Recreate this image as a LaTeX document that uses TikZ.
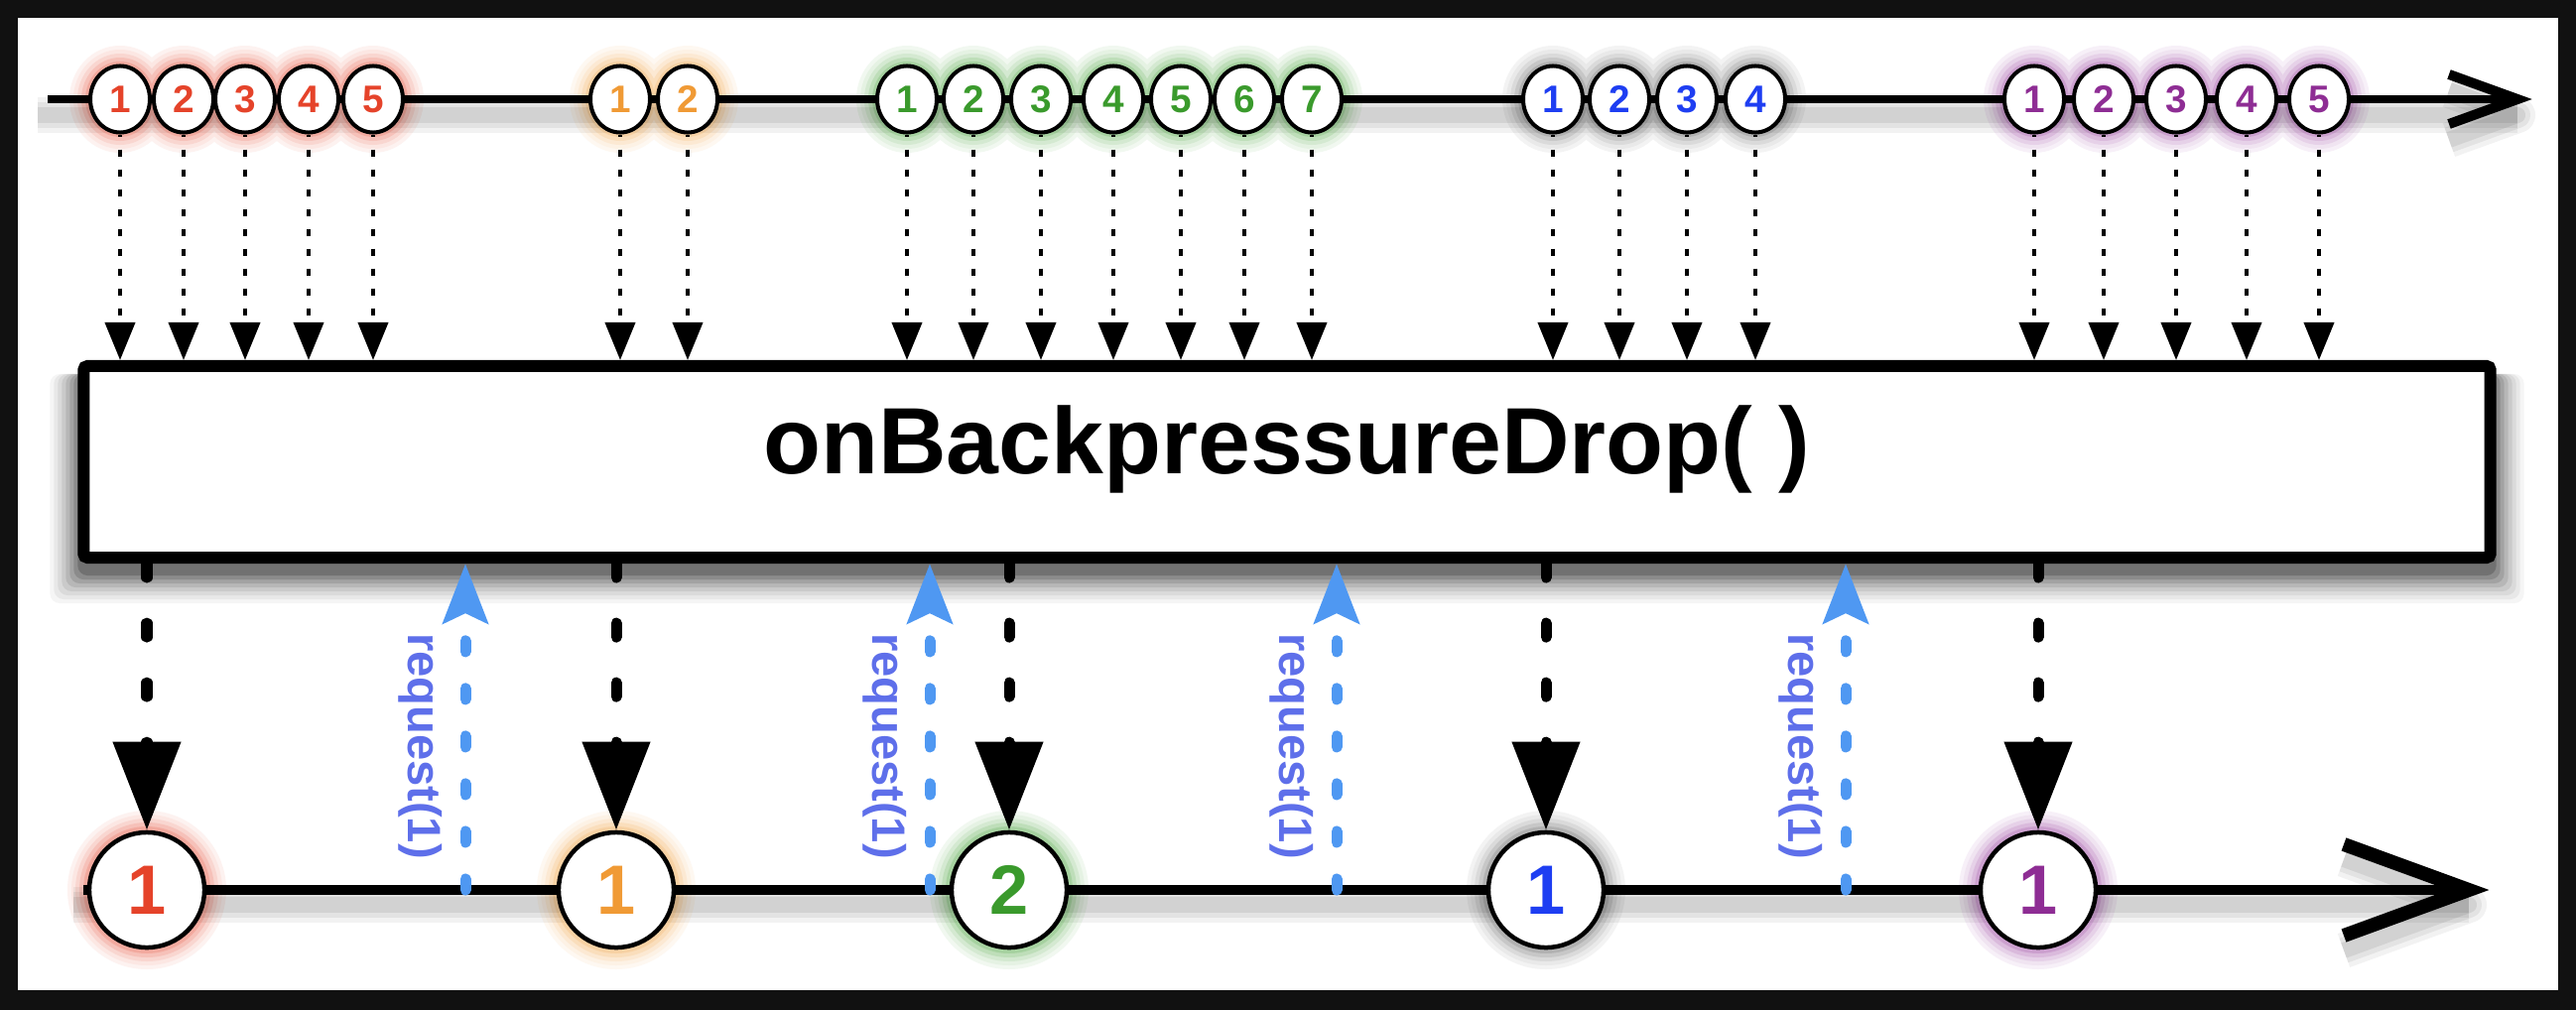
\documentclass[tikz,border=0pt]{standalone}
\usepackage{fontspec}
\setmainfont{Liberation Sans}
\usetikzlibrary{arrows.meta,shapes.geometric,calc}
\pgfdeclarelayer{bg}
\pgfsetlayers{bg,main}
\definecolor{frame}{HTML}{111111}
\definecolor{mred}{HTML}{E5432A}
\definecolor{morange}{HTML}{F09A35}
\definecolor{mgreen}{HTML}{3A9A2C}
\definecolor{mblue}{HTML}{1E3EF2}
\definecolor{mpurple}{HTML}{8E2D94}
\definecolor{gblue}{HTML}{555555}
\definecolor{reqline}{HTML}{4F98F2}
\definecolor{reqtext}{HTML}{5E6FEA}
\tikzset{
 tmarb/.style={ellipse, draw=black, line width=0.04cm, fill=white, minimum width=0.6cm, minimum height=0.67cm, inner sep=0pt, font=\fontsize{11pt}{12pt}\selectfont\bfseries},
 bmarb/.style={circle, draw=black, line width=0.045cm, fill=white, minimum size=1.16cm, inner sep=0pt, font=\fontsize{20pt}{22pt}\selectfont\bfseries},
 opbox/.style={rectangle, draw=black, line width=0.12cm, fill=white, rounded corners=0.04cm, minimum width=24.24cm, minimum height=1.93cm, inner sep=0pt, font=\fontsize{27pt}{30pt}\selectfont\bfseries, text height=0.88em, text depth=0.21em},
 toptime/.style={line width=0.07cm, black},
 topchev/.style={line width=0.1cm, black, line join=miter},
 bottime/.style={line width=0.1cm, black},
 botchev/.style={line width=0.14cm, black, line join=miter},
 feed/.style={line width=0.04cm, dash pattern=on 0.07cm off 0.13cm, dash phase=0.05cm, -{Triangle[length=0.38cm,width=0.3cm]}},
 emit/.style={line width=0.11cm, line cap=round, dash pattern=on 0.14cm off 0.46cm, -{Triangle[length=0.89cm,width=0.66cm]}},
 req/.style={reqline, line width=0.11cm, line cap=round, dash pattern=on 0.11cm off 0.37cm, -{Stealth[length=0.6cm,width=0.45cm,inset=0.1cm]}},
 reqlabel/.style={text=reqtext, font=\fontsize{13.4pt}{15pt}\selectfont\bfseries, rotate=-90, inner sep=0pt},
}
\def\toplist{121/1/mred/mred,185/2/mred/mred,247/3/mred/mred,311/4/mred/mred,376/5/mred/mred,625/1/morange/morange,693/2/morange/morange,914/1/mgreen/mgreen,981/2/mgreen/mgreen,1049/3/mgreen/mgreen,1122/4/mgreen/mgreen,1190/5/mgreen/mgreen,1254/6/mgreen/mgreen,1322/7/mgreen/mgreen,1565/1/mblue/gblue,1632/2/mblue/gblue,1700/3/mblue/gblue,1769/4/mblue/gblue,2050/1/mpurple/mpurple,2120/2/mpurple/mpurple,2193/3/mpurple/mpurple,2264/4/mpurple/mpurple,2337/5/mpurple/mpurple}
\def\botlist{148/1/mred/mred,621/1/morange/morange,1017/2/mgreen/mgreen,1558/1/mblue/gblue,2054/1/mpurple/mpurple}
\begin{document}
\begin{tikzpicture}[x=0.01cm,y=-0.01cm]
\begin{pgfonlayer}{bg}
\fill[frame] (0,0) rectangle (2596,1018);
\fill[white] (18,18) rectangle (2578,998);
\end{pgfonlayer}
\useasboundingbox (0,0) rectangle (2596,1018);
% timeline coordinates
\coordinate (tstart) at (48,100);
\coordinate (tvert) at (2537,100);
\coordinate (bstart) at (84,897);
\coordinate (bvert) at (2488,897);
% operator box
\node[opbox] (box) at (1297,465.5) {onBackpressureDrop( )};
\begin{pgfonlayer}{bg}
% glows
\foreach \off/\tint in {20/7,16/13,12/22,8/33,4/45} {
  \foreach \x/\n/\c/\g in \toplist {
    \fill[\g!\tint!white] (\x,100) ellipse [x radius=31+\off, y radius=34+\off];
  }
  \foreach \x/\n/\c/\g in \botlist {
    \fill[\g!\tint!white] (\x,897) circle [radius=60+\off];
  }
}
% line shadows
\foreach \w/\o in {0.36cm/0.05,0.26cm/0.06,0.16cm/0.07} {
  \draw[line width=\w, opacity=\o] ($(tstart)+(-10,16)$) -- ($(tvert)+(0,16)$);
  \draw[line width=\w, opacity=\o, line join=round] ($(tvert)+(-69,-9)$) -- ($(tvert)+(0,16)$) -- ($(tvert)+(-69,41)$);
  \draw[line width=\w, opacity=\o] ($(bstart)+(-10,15)$) -- ($(bvert)+(0,15)$);
  \draw[line width=\w, opacity=\o, line join=round] ($(bvert)+(-126,-31)$) -- ($(bvert)+(0,15)$) -- ($(bvert)+(-126,61)$);
}
% box shadow
\foreach \e/\o in {28/0.04,24/0.05,20/0.06,16/0.07,12/0.09,8/0.11,4/0.14,0/0.18} {
  \fill[black, opacity=\o, rounded corners=0.1cm] ($(box.south west)+(-\e,12+\e)$) rectangle ($(box.north east)+(\e,14)$);
}
\end{pgfonlayer}
% timelines
\draw[toptime] (tstart) -- (tvert);
\draw[topchev] ($(tvert)+(-69,-25)$) -- (tvert) -- ($(tvert)+(-69,25)$);
\draw[bottime] (bstart) -- (bvert);
\draw[botchev] ($(bvert)+(-126,-46)$) -- (bvert) -- ($(bvert)+(-126,46)$);
% marbles
\foreach \x/\n/\c/\g [count=\i] in \toplist {
  \node[tmarb, text=\c] (t\i) at (\x,100) {\n};
}
\foreach \x/\n/\c/\g [count=\i] in \botlist {
  \node[bmarb, text=\c] (b\i) at (\x,897) {\n};
}
% arrows into operator
\foreach \i in {1,...,23} {
  \draw[feed] (t\i.south) -- (t\i.south |- box.north);
}
% emitted items
\foreach \i in {1,...,5} {
  \draw[emit] (b\i.north |- box.south) -- (b\i.north);
}
% requests
\foreach \x [count=\i] in {469,937,1347,1860} {
  \coordinate (r\i) at (\x,897);
  \draw[req] (r\i) -- (r\i |- box.south);
  \node[reqlabel] (q\i) at (\x-45,752) {request(1)};
}
\end{tikzpicture}
\end{document}
